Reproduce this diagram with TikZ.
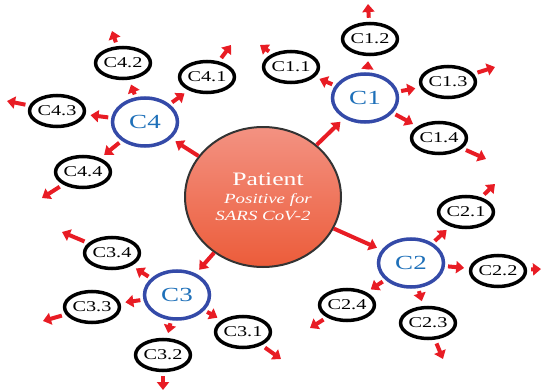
\documentclass[tikz,border=0pt]{standalone}
\usepackage{fontspec}
\setmainfont{Liberation Serif}
\usepackage{graphicx}
\usetikzlibrary{shapes.geometric,arrows.meta}
\definecolor{ArrowRed}{RGB}{232,28,36}
\definecolor{RingBlue}{RGB}{52,74,168}
\definecolor{LabelBlue}{RGB}{30,112,185}
\definecolor{PatientTop}{RGB}{243,146,130}
\definecolor{PatientBottom}{RGB}{236,92,58}
\newcommand{\widetext}[1]{\scalebox{1.35}[1]{#1}}

\begin{document}
\begin{tikzpicture}[x=0.5pt, y=-0.5pt,
    patientbox/.style={ellipse, draw=black!80, line width=1pt, top color=PatientTop,
                 bottom color=PatientBottom, minimum width=78pt, minimum height=70pt,
                 inner sep=0pt, text=white, align=center, font=\fontsize{7}{8.5}\selectfont},
    groupbox/.style={ellipse, draw=RingBlue, line width=1.75pt, fill=white,
                 minimum width=32.5pt, minimum height=24pt, inner sep=0pt,
                 text=LabelBlue, font=\fontsize{10}{12}\selectfont},
    subbox/.style={ellipse, draw=black, line width=1.75pt, fill=white,
                 minimum width=24pt, minimum height=15.5pt, inner sep=0pt,
                 font=\fontsize{7.5}{9}\selectfont},
    arrow/.style={-{Triangle[length=4pt, width=6pt]}, draw=ArrowRed, line width=2pt,
                 shorten <=1.5pt, shorten >=2.5pt},
    outarrow/.style={-{Triangle[length=4pt, width=6pt]}, draw=ArrowRed, line width=2pt,
                 shorten <=2pt}
]
    \useasboundingbox (0,0) rectangle (542,391);
    % centre
    \node[patientbox] (patient) at (263,197)
        {\hspace{5pt}\widetext{\fontsize{9.5}{11}\selectfont Patient}\\[0.5pt]
         \hspace{5pt}\widetext{\itshape Positive for}\\
         \widetext{\itshape SARS CoV-2}};
    % groups
    \node[groupbox] (c1) at (365,98) {\widetext{C1}};
    \node[groupbox] (c2) at (411,263) {\widetext{C2}};
    \node[groupbox] (c3) at (177,295) {\widetext{C3}};
    \node[groupbox] (c4) at (145,122) {\widetext{C4}};
    % sub-groups
    \node[subbox] (c11) at (291,67) {\widetext{C1.1}};
    \node[subbox] (c12) at (370,39) {\widetext{C1.2}};
    \node[subbox] (c13) at (448,82) {\widetext{C1.3}};
    \node[subbox] (c14) at (439,138) {\widetext{C1.4}};
    \node[subbox] (c21) at (466,212) {\widetext{C2.1}};
    \node[subbox] (c22) at (498,271) {\widetext{C2.2}};
    \node[subbox] (c23) at (428,323) {\widetext{C2.3}};
    \node[subbox] (c24) at (347,305) {\widetext{C2.4}};
    \node[subbox] (c31) at (243,332) {\widetext{C3.1}};
    \node[subbox] (c32) at (163,355) {\widetext{C3.2}};
    \node[subbox] (c33) at (92,307) {\widetext{C3.3}};
    \node[subbox] (c34) at (112,253) {\widetext{C3.4}};
    \node[subbox] (c41) at (207,77) {\widetext{C4.1}};
    \node[subbox] (c42) at (123,63) {\widetext{C4.2}};
    \node[subbox] (c43) at (57,111) {\widetext{C4.3}};
    \node[subbox] (c44) at (83,172) {\widetext{C4.4}};
    % free ends
    \coordinate (c11o) at (260,45);
    \coordinate (c12o) at (368,4);
    \coordinate (c13o) at (495,67);
    \coordinate (c14o) at (486,159);
    \coordinate (c21o) at (495,184);
    \coordinate (c22o) at (541,269);
    \coordinate (c23o) at (443,359);
    \coordinate (c24o) at (310,328);
    \coordinate (c31o) at (281,359);
    \coordinate (c32o) at (163,390);
    \coordinate (c33o) at (43,321);
    \coordinate (c34o) at (62,232);
    \coordinate (c41o) at (231,45);
    \coordinate (c42o) at (112,31);
    \coordinate (c43o) at (7,101);
    \coordinate (c44o) at (42,198);
    % patient to groups
    \draw[arrow, shorten <=0pt] (patient) -- (c1);
    \draw[arrow, shorten <=0pt] (patient) -- (c2);
    \draw[arrow, shorten <=0pt] (patient) -- (c3);
    \draw[arrow, shorten <=0pt] (patient) -- (c4);
    % groups to sub-groups
    \draw[arrow] (c1) -- (c11);
    \draw[arrow] (c1) -- (c12);
    \draw[arrow] (c1) -- (c13);
    \draw[arrow] (c1) -- (c14);
    \draw[arrow] (c2) -- (c21);
    \draw[arrow] (c2) -- (c22);
    \draw[arrow] (c2) -- (c23);
    \draw[arrow] (c2) -- (c24);
    \draw[arrow] (c3) -- (c31);
    \draw[arrow] (c3) -- (c32);
    \draw[arrow] (c3) -- (c33);
    \draw[arrow] (c3) -- (c34);
    \draw[arrow] (c4) -- (c41);
    \draw[arrow] (c4) -- (c42);
    \draw[arrow] (c4) -- (c43);
    \draw[arrow] (c4) -- (c44);
    % outward
    \draw[outarrow] (c11) -- (c11o);
    \draw[outarrow] (c12) -- (c12o);
    \draw[outarrow] (c13) -- (c13o);
    \draw[outarrow] (c14) -- (c14o);
    \draw[outarrow] (c21) -- (c21o);
    \draw[outarrow] (c22) -- (c22o);
    \draw[outarrow] (c23) -- (c23o);
    \draw[outarrow] (c24) -- (c24o);
    \draw[outarrow] (c31) -- (c31o);
    \draw[outarrow] (c32) -- (c32o);
    \draw[outarrow] (c33) -- (c33o);
    \draw[outarrow] (c34) -- (c34o);
    \draw[outarrow] (c41) -- (c41o);
    \draw[outarrow] (c42) -- (c42o);
    \draw[outarrow] (c43) -- (c43o);
    \draw[outarrow] (c44) -- (c44o);
\end{tikzpicture}
\end{document}
